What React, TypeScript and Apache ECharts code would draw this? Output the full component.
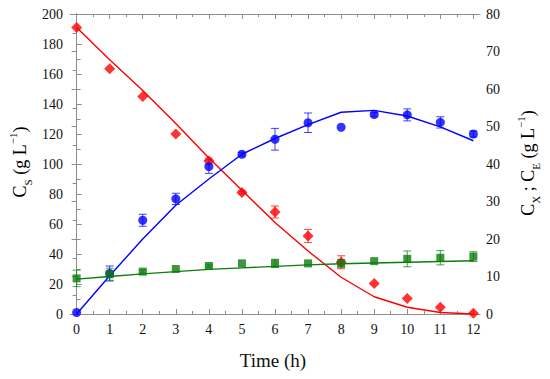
import React, { useEffect, useRef } from "react";
import * as echarts from "echarts";

const time = [0, 1, 2, 3, 4, 5, 6, 7, 8, 9, 10, 11, 12];
const xTickLabels = [0, 1, 2, 3, 4, 5, 6, 7, 8, 9, 10, 11, 12];
const xHalfTicks = [0.5, 1.5, 2.5, 3.5, 4.5, 5.5, 6.5, 7.5, 8.5, 9.5, 10.5, 11.5];

// Substrate (left axis, g/L)
const csObs = [191, 163.5, 145, 120, 102, 81, 68, 52, 34.5, 20.4, 10.4, 4.5, 0.5];
const csErr = [0, 0, 0, 0, 2, 1, 4, 4.4, 4.3, 0, 0, 0, 0];
const csFit = [191, 169.5, 149, 127, 104, 82.5, 61, 42, 24.5, 11.5, 4.5, 1, 0];

// Biomass (right axis, g/L)
const cxObs = [0.4, 10.8, 25, 30.7, 39.3, 42.6, 46.6, 51, 49.8, 53.2, 53.1, 51.1, 48];
const cxErr = [0, 2, 1.6, 1.5, 1.8, 0.5, 2.9, 2.6, 0, 0.5, 1.6, 1.5, 0.8];
const cxFit = [0, 10.2, 20, 29, 36, 42.6, 46.8, 50.5, 53.8, 54.3, 52.8, 49.9, 46.2];

// Ethanol (right axis, g/L)
const ceObs = [9.5, 10.6, 11.3, 12, 12.8, 13.5, 13.5, 13.5, 13.5, 14.1, 14.7, 15, 15.3];
const ceErr = [2.2, 1.6, 0.4, 0, 0.3, 0, 1.1, 0, 1, 0, 2.1, 1.9, 1.3];
const ceFit = [9.3, 10.0, 10.7, 11.3, 11.9, 12.3, 12.7, 13.1, 13.4, 13.6, 13.8, 14.0, 14.2];

const RED = "#ff0000";
const BLUE = "#0000ff";
const GREEN = "#0a7d0a";
const FONT = "'Liberation Serif', 'DejaVu Serif', serif";
const AXIS_GRAY = "#8c8c8c";

function pairs(vals: number[]) {
  return time.map((t, i) => [t, vals[i]]);
}

function errSeries(yIdx: number, vals: number[], errs: number[], color: string) {
  return {
    type: "custom",
    xAxisIndex: 0,
    yAxisIndex: yIdx,
    z: 3,
    silent: true,
    data: time
      .map((t, i) => [t, vals[i] - errs[i], vals[i] + errs[i], errs[i]])
      .filter((d) => d[3] > 0),
    encode: { x: 0, y: [1, 2] },
    renderItem: (params: any, api: any) => {
      const x = api.value(0);
      const p1 = api.coord([x, api.value(1)]);
      const p2 = api.coord([x, api.value(2)]);
      const w = 4;
      const st = { stroke: color, lineWidth: 1, opacity: 0.75 };
      return {
        type: "group",
        children: [
          { type: "line", shape: { x1: p1[0], y1: p1[1], x2: p2[0], y2: p2[1] }, style: st },
          { type: "line", shape: { x1: p1[0] - w, y1: p1[1], x2: p1[0] + w, y2: p1[1] }, style: st },
          { type: "line", shape: { x1: p2[0] - w, y1: p2[1], x2: p2[0] + w, y2: p2[1] }, style: st },
        ],
      };
    },
  };
}

function xAxisDef(position: string, values: number[], len: number, showLabel: boolean, showLine: boolean) {
  return {
    type: "value",
    position,
    min: -0.2,
    max: 12.2,
    axisLine: { show: showLine, lineStyle: { color: AXIS_GRAY, width: 1 } },
    axisTick: { show: true, inside: true, length: len, customValues: values, lineStyle: { color: AXIS_GRAY } },
    axisLabel: {
      show: showLabel,
      customValues: values,
      color: "#111",
      fontFamily: FONT,
      fontSize: 14,
      margin: 8,
    },
    splitLine: { show: false },
  };
}

export default function App() {
  const ref = useRef<HTMLDivElement>(null);
  useEffect(() => {
    if (!ref.current) return;
    const chart = echarts.init(ref.current, null, { renderer: "svg" });
    const titleRich = {
      m: { fontFamily: FONT, fontSize: 18, color: "#111", lineHeight: 26 },
      sub: { fontFamily: FONT, fontSize: 11, color: "#111", lineHeight: 12, verticalAlign: "bottom" },
      sup: { fontFamily: FONT, fontSize: 11, color: "#111", lineHeight: 12, verticalAlign: "top" },
    };
    chart.setOption({
      animation: false,
      backgroundColor: "#ffffff",
      grid: { left: 70, right: 70, top: 14, bottom: 65, containLabel: false },
      xAxis: [
        xAxisDef("bottom", xTickLabels, 5, true, true),
        xAxisDef("bottom", xHalfTicks, 3, false, false),
        xAxisDef("top", xTickLabels, 5, false, true),
        xAxisDef("top", xHalfTicks, 3, false, false),
      ],
      yAxis: [
        {
          type: "value",
          position: "left",
          min: 0,
          max: 200,
          interval: 20,
          axisLine: { show: true, lineStyle: { color: AXIS_GRAY } },
          axisTick: { show: true, inside: true, length: 5, lineStyle: { color: AXIS_GRAY } },
          minorTick: { show: true, splitNumber: 2, length: 4, lineStyle: { color: AXIS_GRAY } },
          axisLabel: { color: "#111", fontFamily: FONT, fontSize: 14, margin: 7 },
          splitLine: { show: false },
        },
        {
          type: "value",
          position: "right",
          min: 0,
          max: 80,
          interval: 10,
          axisLine: { show: true, lineStyle: { color: AXIS_GRAY } },
          axisTick: { show: true, inside: true, length: 5, lineStyle: { color: AXIS_GRAY } },
          minorTick: { show: true, splitNumber: 2, length: 4, lineStyle: { color: AXIS_GRAY } },
          axisLabel: { color: "#111", fontFamily: FONT, fontSize: 14, margin: 6 },
          splitLine: { show: false },
        },
      ],
      graphic: [
        {
          type: "text",
          x: 273,
          y: 360,
          style: { text: "Time (h)", fontFamily: FONT, fontSize: 19, fill: "#111", align: "center", verticalAlign: "middle" },
        },
        {
          type: "text",
          x: 20,
          y: 162,
          rotation: Math.PI / 2,
          style: {
            text: "{m|C}{sub|S}{m| (g L}{sup|−1}{m|)}",
            rich: titleRich,
            align: "center",
            verticalAlign: "middle",
          },
        },
        {
          type: "text",
          x: 528,
          y: 163,
          rotation: Math.PI / 2,
          style: {
            text: "{m|C}{sub|X}{m| ; C}{sub|E}{m| (g L}{sup|−1}{m|)}",
            rich: titleRich,
            align: "center",
            verticalAlign: "middle",
          },
        },
      ],
      series: [
        { type: "line", name: "Cs fit", xAxisIndex: 0, yAxisIndex: 0, data: pairs(csFit), showSymbol: false, z: 2, lineStyle: { color: RED, width: 1.4 }, itemStyle: { color: RED } },
        { type: "line", name: "Cx fit", xAxisIndex: 0, yAxisIndex: 1, data: pairs(cxFit), showSymbol: false, z: 2, lineStyle: { color: BLUE, width: 1.4 }, itemStyle: { color: BLUE } },
        { type: "line", name: "Ce fit", xAxisIndex: 0, yAxisIndex: 1, data: pairs(ceFit), showSymbol: false, z: 2, lineStyle: { color: GREEN, width: 1.4 }, itemStyle: { color: GREEN } },
        errSeries(0, csObs, csErr, RED),
        errSeries(1, cxObs, cxErr, BLUE),
        errSeries(1, ceObs, ceErr, GREEN),
        { type: "scatter", name: "Cs", xAxisIndex: 0, yAxisIndex: 0, data: pairs(csObs), symbol: "diamond", symbolSize: [11, 11], z: 4, itemStyle: { color: RED } },
        { type: "scatter", name: "Cx", xAxisIndex: 0, yAxisIndex: 1, data: pairs(cxObs), symbol: "circle", symbolSize: 9, z: 4, itemStyle: { color: BLUE } },
        { type: "scatter", name: "Ce", xAxisIndex: 0, yAxisIndex: 1, data: pairs(ceObs), symbol: "rect", symbolSize: 8, z: 4, itemStyle: { color: GREEN } },
      ],
    });
    return () => chart.dispose();
  }, []);
  return <div ref={ref} style={{ position: "fixed", left: 0, top: 0, width: 550, height: 379 }} />;
}
